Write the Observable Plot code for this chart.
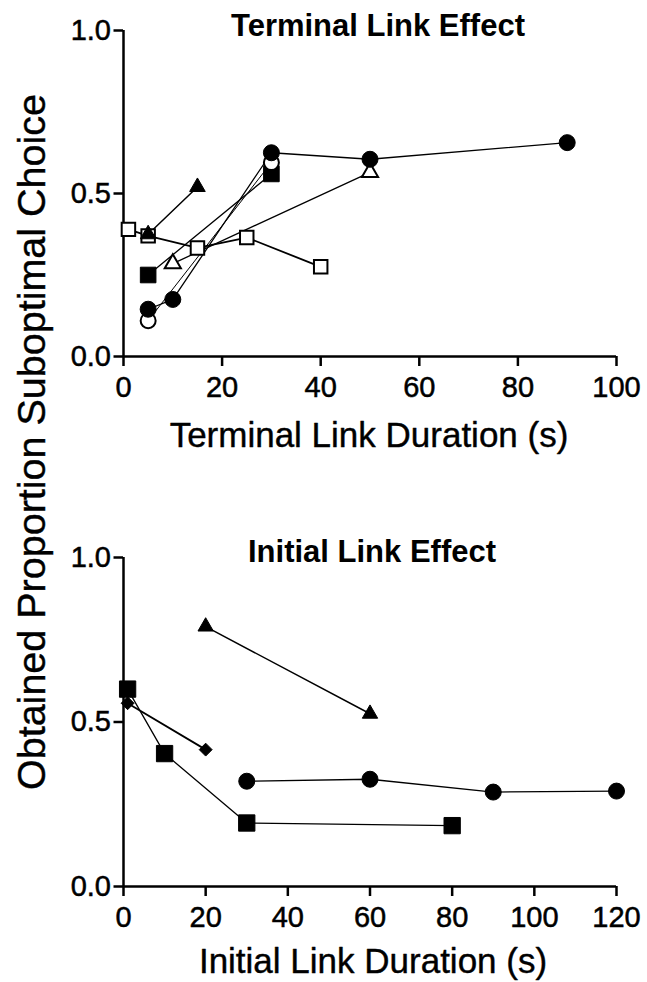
<!DOCTYPE html>
<html>
<head>
<meta charset="utf-8">
<script src="https://cdn.jsdelivr.net/npm/d3@7"></script>
<script src="https://cdn.jsdelivr.net/npm/@observablehq/plot@0.6"></script>
<style>
  html, body { margin: 0; padding: 0; background: #fff; }
  #wrap { position: relative; width: 647px; height: 982px; overflow: hidden; }
  #wrap svg { display: block; }
  #wrap svg [aria-label$="tick label"] text { stroke: #000; stroke-width: 0.5px; }
  #ylab { position: absolute; left: 31px; top: 442px; transform: translate(-50%, -50%) rotate(-90deg);
          white-space: nowrap; font-family: 'Liberation Sans', Arial, Helvetica, sans-serif; font-size: 39.5px; color: #000;
          -webkit-text-stroke: 0.4px #000; }
</style>
</head>
<body>
<div id="wrap">
  <div id="top"></div>
  <div id="bottom"></div>
  <div id="ylab">Obtained Proportion Suboptimal Choice</div>
</div>
<script>
const FONT = "'Liberation Sans', Arial, Helvetica, sans-serif";

// ---- Top panel: Terminal Link Effect ----
const topTitle = "Terminal Link Effect";
const topXLabel = "Terminal Link Duration (s)";
const topXTicks = [0, 20, 40, 60, 80, 100];
const yTicks = [0, 0.5, 1.0];

const tFilledCircleX = [5, 10, 30, 50, 90];
const tFilledCircleY = [0.145, 0.175, 0.625, 0.605, 0.656];
const tOpenCircleX = [5, 30];
const tOpenCircleY = [0.11, 0.595];
const tFilledSquareX = [5, 30];
const tFilledSquareY = [0.25, 0.56];
const tFilledTriangleX = [5, 15];
const tFilledTriangleY = [0.375, 0.52];
const tOpenTriangleX = [10, 50];
const tOpenTriangleY = [0.285, 0.565];
const tOpenSquareX = [1, 5, 15, 25, 40];
const tOpenSquareY = [0.39, 0.37, 0.333, 0.365, 0.275];

// ---- Bottom panel: Initial Link Effect ----
const botTitle = "Initial Link Effect";
const botXLabel = "Initial Link Duration (s)";
const botXTicks = [0, 20, 40, 60, 80, 100, 120];

const bSquareX = [1, 10, 30, 80];
const bSquareY = [0.60, 0.404, 0.193, 0.185];
const bDiamondX = [1, 20];
const bDiamondY = [0.557, 0.416];
const bTriangleX = [20, 60];
const bTriangleY = [0.79, 0.525];
const bCircleX = [30, 60, 90, 120];
const bCircleY = [0.32, 0.326, 0.287, 0.29];

function pts(xs, ys) { return xs.map((x, i) => ({x, y: ys[i]})); }

function seriesLine(s) {
  return Plot.line(pts(s.x, s.y), {x: "x", y: "y", stroke: "black", strokeWidth: s.lw ?? 1.5});
}
function seriesDots(s) {
  return Plot.dot(pts(s.x, s.y), {
    x: "x", y: "y", symbol: s.symbol, r: s.r,
    fill: s.open ? "white" : "black",
    stroke: "black", strokeWidth: s.open ? 2 : 1
  });
}

function panel(cfg) {
  return Plot.plot({
    width: 647,
    height: cfg.height,
    marginTop: cfg.marginTop,
    marginBottom: cfg.marginBottom,
    marginLeft: 123,
    marginRight: 31,
    style: {fontFamily: FONT, fontSize: "29px", color: "black", background: "white", overflow: "visible"},
    x: {domain: cfg.xDomain},
    y: {domain: [0, 1]},
    marks: [
      Plot.axisX({ticks: cfg.xTicks, tickFormat: d => String(d), tickSize: 10, tickPadding: 10,
                  strokeWidth: 2.5, fontSize: 29, label: null}),
      Plot.axisY({ticks: yTicks, tickFormat: d3.format(".1f"), tickSize: 9.5, tickPadding: 3,
                  strokeWidth: 2.5, fontSize: 29, label: null}),
      Plot.ruleX([0], {stroke: "black", strokeWidth: 2.5}),
      Plot.ruleY([0], {stroke: "black", strokeWidth: 2.5}),
      ...cfg.series.map(seriesLine),
      ...cfg.series.map(seriesDots),
      Plot.text([cfg.title], {text: d => d, frameAnchor: "top", dx: cfg.titleDx, dy: cfg.titleDy,
                  fontSize: 31, fontWeight: "bold", lineAnchor: "middle", fill: "black"}),
      Plot.text([cfg.xLabel], {text: d => d, frameAnchor: "bottom", dx: cfg.labelDx, dy: cfg.labelDy,
                  fontSize: 35, lineAnchor: "middle", fill: "black", stroke: "black", strokeWidth: 0.4})
    ]
  });
}

const topPlot = panel({
  height: 470, marginTop: 30, marginBottom: 114,
  xDomain: [0, 100], xTicks: topXTicks,
  title: topTitle, xLabel: topXLabel, titleDx: 8, titleDy: -4, labelDx: -1, labelDy: 79,
  series: [
    {x: tOpenSquareX, y: tOpenSquareY, symbol: "square", r: 7.6, open: true, lw: 1.8},
    {x: tFilledTriangleX, y: tFilledTriangleY, symbol: "triangle", r: 5.8, lw: 1.5},
    {x: tFilledSquareX, y: tFilledSquareY, symbol: "square", r: 8.8, lw: 1.3},
    {x: tOpenTriangleX, y: tOpenTriangleY, symbol: "triangle", r: 6, open: true, lw: 1.3},
    {x: tOpenCircleX, y: tOpenCircleY, symbol: "circle", r: 7.5, open: true, lw: 1},
    {x: tFilledCircleX, y: tFilledCircleY, symbol: "circle", r: 8, lw: 1.3}
  ]
});

const botPlot = panel({
  height: 512, marginTop: 87, marginBottom: 96,
  xDomain: [0, 120], xTicks: botXTicks,
  title: botTitle, xLabel: botXLabel, titleDx: 2, titleDy: -5, labelDx: 3, labelDy: 75,
  series: [
    {x: bSquareX, y: bSquareY, symbol: "square", r: 9.2, lw: 1.3},
    {x: bDiamondX, y: bDiamondY, symbol: "diamond2", r: 5.8, lw: 1.8},
    {x: bTriangleX, y: bTriangleY, symbol: "triangle", r: 5.7, lw: 1.5},
    {x: bCircleX, y: bCircleY, symbol: "circle", r: 8, lw: 1.3}
  ]
});

document.getElementById("top").appendChild(topPlot);
document.getElementById("bottom").appendChild(botPlot);
</script>
</body>
</html>
